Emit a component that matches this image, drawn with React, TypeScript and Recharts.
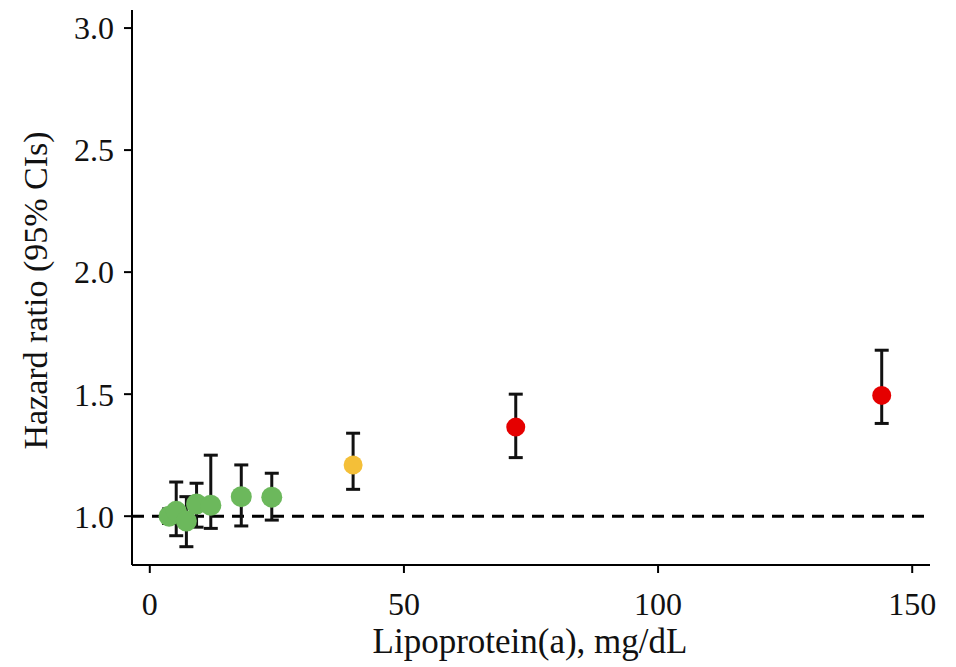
import React from 'react';
import { ScatterChart, Scatter, XAxis, YAxis, ErrorBar, ReferenceLine } from 'recharts';

// Lipoprotein(a) category medians, mg/dL
const greenLpa = [3.8, 5.2, 7.2, 9.2, 12, 18, 24];
const greenHR = [1.0, 1.02, 0.98, 1.05, 1.045, 1.08, 1.078];
const greenLow = [0.97, 0.92, 0.875, 0.955, 0.95, 0.96, 0.984];
const greenHigh = [1.03, 1.14, 1.08, 1.135, 1.25, 1.21, 1.176];

const yellowLpa = [40];
const yellowHR = [1.21];
const yellowLow = [1.11];
const yellowHigh = [1.34];

const redLpa = [72, 144];
const redHR = [1.365, 1.495];
const redLow = [1.24, 1.38];
const redHigh = [1.5, 1.68];

const xTicks = [0, 50, 100, 150];
const yTicks = [1.0, 1.5, 2.0, 2.5, 3.0];

const build = (xs: number[], ys: number[], lo: number[], hi: number[]) =>
  xs.map((x, i) => ({ x, y: ys[i], err: [ys[i] - lo[i], hi[i] - ys[i]] }));

const greenData = build(greenLpa, greenHR, greenLow, greenHigh);
const yellowData = build(yellowLpa, yellowHR, yellowLow, yellowHigh);
const redData = build(redLpa, redHR, redLow, redHigh);

const FONT = '"Liberation Serif", "Times New Roman", serif';

const dot = (r: number, fill: string) => (props: any) => (
  <circle cx={props.cx} cy={props.cy} r={r} fill={fill} />
);

export default function App() {
  return (
    <div style={{ position: 'absolute', left: 0, top: 0, width: 956, height: 667, background: '#fff' }}>
      <ScatterChart
        width={956}
        height={667}
        margin={{ top: 10, right: 26, left: 32, bottom: 22 }}
      >
        <XAxis
          type="number"
          dataKey="x"
          domain={[-3.5, 153.5]}
          ticks={xTicks}
          allowDataOverflow
          height={80}
          tickSize={8}
          tickMargin={19}
          tick={{ fill: '#111', fontSize: 32, fontFamily: FONT }}
          axisLine={{ stroke: '#000', strokeWidth: 2 }}
          tickLine={{ stroke: '#000', strokeWidth: 2 }}
          label={{
            content: (p: any) => {
              const vb = p.viewBox || {};
              return (
                <text
                  x={vb.x + vb.width / 2 - 1}
                  y={vb.y + 88}
                  textAnchor="middle"
                  fontSize={35}
                  fontFamily={FONT}
                  fill="#111"
                >
                  Lipoprotein(a), mg/dL
                </text>
              );
            },
          }}
        />
        <YAxis
          type="number"
          dataKey="y"
          domain={[0.8, 3.074]}
          ticks={yTicks}
          allowDataOverflow
          width={100}
          tickSize={8}
          tickMargin={10}
          tickFormatter={(v: number) => v.toFixed(1)}
          tick={{ fill: '#111', fontSize: 32, fontFamily: FONT }}
          axisLine={{ stroke: '#000', strokeWidth: 2 }}
          tickLine={{ stroke: '#000', strokeWidth: 2 }}
          label={{
            content: (p: any) => {
              const vb = p.viewBox || {};
              const cx = vb.x + 15;
              const cy = vb.y + vb.height / 2 + 3;
              return (
                <text
                  x={cx}
                  y={cy}
                  transform={`rotate(-90 ${cx} ${cy})`}
                  textAnchor="middle"
                  fontSize={34}
                  fontFamily={FONT}
                  fill="#111"
                >
                  Hazard ratio (95% CIs)
                </text>
              );
            },
          }}
        />
        <ReferenceLine y={1} stroke="#000" strokeWidth={3} strokeDasharray="12 8" />
        <Scatter data={greenData} isAnimationActive={false} shape={dot(10.5, '#6cb85c')}>
          <ErrorBar dataKey="err" direction="y" width={7} stroke="#111" strokeWidth={3} />
        </Scatter>
        <Scatter data={yellowData} isAnimationActive={false} shape={dot(9.5, '#f4bf38')}>
          <ErrorBar dataKey="err" direction="y" width={7} stroke="#111" strokeWidth={3} />
        </Scatter>
        <Scatter data={redData} isAnimationActive={false} shape={dot(9.5, '#e50000')}>
          <ErrorBar dataKey="err" direction="y" width={7} stroke="#111" strokeWidth={3} />
        </Scatter>
      </ScatterChart>
    </div>
  );
}
